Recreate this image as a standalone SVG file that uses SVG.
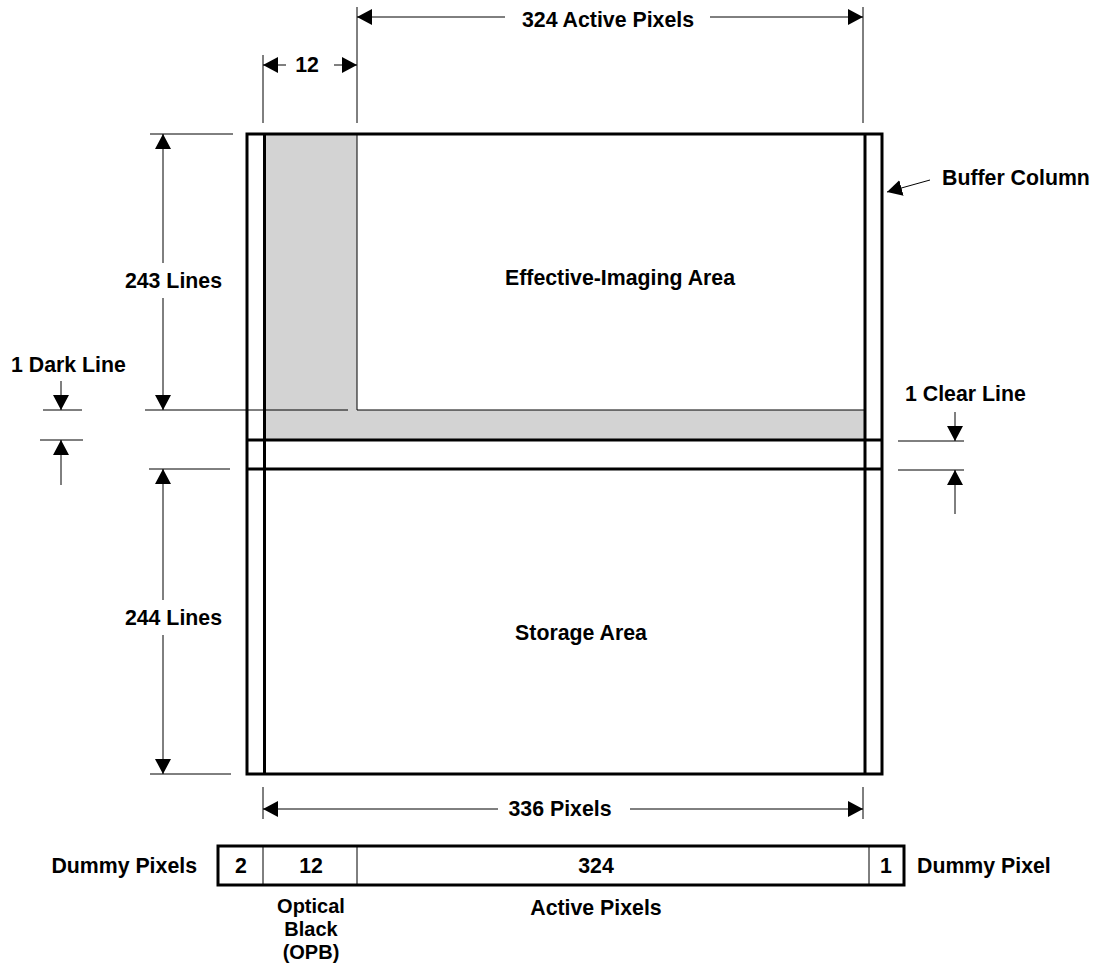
<svg xmlns="http://www.w3.org/2000/svg" width="1100" height="967" viewBox="0 0 1100 967">
<defs>
<style>
text{font-family:"Liberation Sans",Arial,sans-serif;font-weight:bold;font-size:21.3px;fill:#000}
.small{font-size:20px}
.thin{stroke:#000;stroke-width:1;fill:none}
.thick{stroke:#000;stroke-width:3;fill:none}
.mid{text-anchor:middle}
.end{text-anchor:end}
</style>
<marker id="ah" viewBox="0 0 15 16" refX="15" refY="8" markerWidth="15" markerHeight="16" markerUnits="userSpaceOnUse" orient="auto">
<path d="M0,0 L15,8 L0,16 Z" fill="#000"/>
</marker>
</defs>
<rect width="1100" height="967" fill="#fff"/>

<g id="imaging-area">
<path d="M264,134 H357 V410 H865 V440 H264 Z" fill="#d3d3d3"/>
<path d="M357,134 V410 H865" class="thin"/>
<text x="620" y="285" class="mid">Effective-Imaging Area</text>
</g>
<g id="storage-area">
<text x="581" y="640" class="mid">Storage Area</text>
</g>
<g id="sensor-frame">
<rect x="247" y="134" width="635" height="640" class="thick"/>
<line x1="264.5" y1="134" x2="264.5" y2="774" class="thick"/>
<line x1="865" y1="134" x2="865" y2="774" class="thick"/>
<line x1="247" y1="440" x2="882" y2="440" class="thick"/>
<line x1="247" y1="469" x2="882" y2="469" class="thick"/>
</g>

<g id="pixel-bar">
<rect x="218" y="846" width="686" height="39" class="thick"/>
<line x1="263" y1="846" x2="263" y2="885" class="thin"/>
<line x1="357" y1="846" x2="357" y2="885" class="thin"/>
<line x1="869" y1="846" x2="869" y2="885" class="thin"/>
<text x="241" y="873" class="mid">2</text>
<text x="311" y="873" class="mid">12</text>
<text x="596" y="873" class="mid">324</text>
<text x="886" y="873" class="mid">1</text>
</g>

<g id="labels">
<text x="197" y="873" class="end">Dummy Pixels</text>
<text x="917" y="873">Dummy Pixel</text>
<text x="311" y="913" class="mid small">Optical</text>
<text x="311" y="936" class="mid small">Black</text>
<text x="311" y="959" class="mid small">(OPB)</text>
<text x="596" y="915" class="mid">Active Pixels</text>
<text x="608" y="27" class="mid">324 Active Pixels</text>
<text x="307" y="72" class="mid">12</text>
<text x="222" y="288" class="end">243 Lines</text>
<text x="222" y="625" class="end">244 Lines</text>
<text x="11" y="372">1 Dark Line</text>
<text x="905" y="401">1 Clear Line</text>
<text x="942" y="185">Buffer Column</text>
<text x="560" y="816" class="mid">336 Pixels</text>
</g>

<g id="connectors">
<line x1="263" y1="55" x2="263" y2="123" class="thin"/>
<line x1="357" y1="7" x2="357" y2="123" class="thin"/>
<line x1="863" y1="7" x2="863" y2="123" class="thin"/>
<line x1="150" y1="134" x2="233" y2="134" class="thin"/>
<line x1="145" y1="410" x2="348" y2="410" class="thin"/>
<line x1="149" y1="469" x2="230" y2="469" class="thin"/>
<line x1="150" y1="774" x2="231" y2="774" class="thin"/>
<line x1="43" y1="410" x2="82" y2="410" class="thin"/>
<line x1="40" y1="440" x2="83" y2="440" class="thin"/>
<line x1="898" y1="441" x2="964" y2="441" class="thin"/>
<line x1="898" y1="470" x2="964" y2="470" class="thin"/>
<line x1="263" y1="787" x2="263" y2="819" class="thin"/>
<line x1="863" y1="787" x2="863" y2="819" class="thin"/>
<line x1="505" y1="17" x2="357" y2="17" class="thin" marker-end="url(#ah)"/>
<line x1="710" y1="17" x2="863" y2="17" class="thin" marker-end="url(#ah)"/>
<line x1="286" y1="65" x2="263" y2="65" class="thin" marker-end="url(#ah)"/>
<line x1="334" y1="65" x2="357" y2="65" class="thin" marker-end="url(#ah)"/>
<line x1="163" y1="263" x2="163" y2="134" class="thin" marker-end="url(#ah)"/>
<line x1="163" y1="298" x2="163" y2="410" class="thin" marker-end="url(#ah)"/>
<line x1="163" y1="600" x2="163" y2="469" class="thin" marker-end="url(#ah)"/>
<line x1="163" y1="635" x2="163" y2="774" class="thin" marker-end="url(#ah)"/>
<line x1="61" y1="381" x2="61" y2="410" class="thin" marker-end="url(#ah)"/>
<line x1="61" y1="485" x2="61" y2="440" class="thin" marker-end="url(#ah)"/>
<line x1="955" y1="412" x2="955" y2="441" class="thin" marker-end="url(#ah)"/>
<line x1="955" y1="514" x2="955" y2="470" class="thin" marker-end="url(#ah)"/>
<line x1="930" y1="180" x2="887" y2="192" class="thin" marker-end="url(#ah)"/>
<line x1="498" y1="809" x2="263" y2="809" class="thin" marker-end="url(#ah)"/>
<line x1="630" y1="809" x2="863" y2="809" class="thin" marker-end="url(#ah)"/>
</g>
</svg>
